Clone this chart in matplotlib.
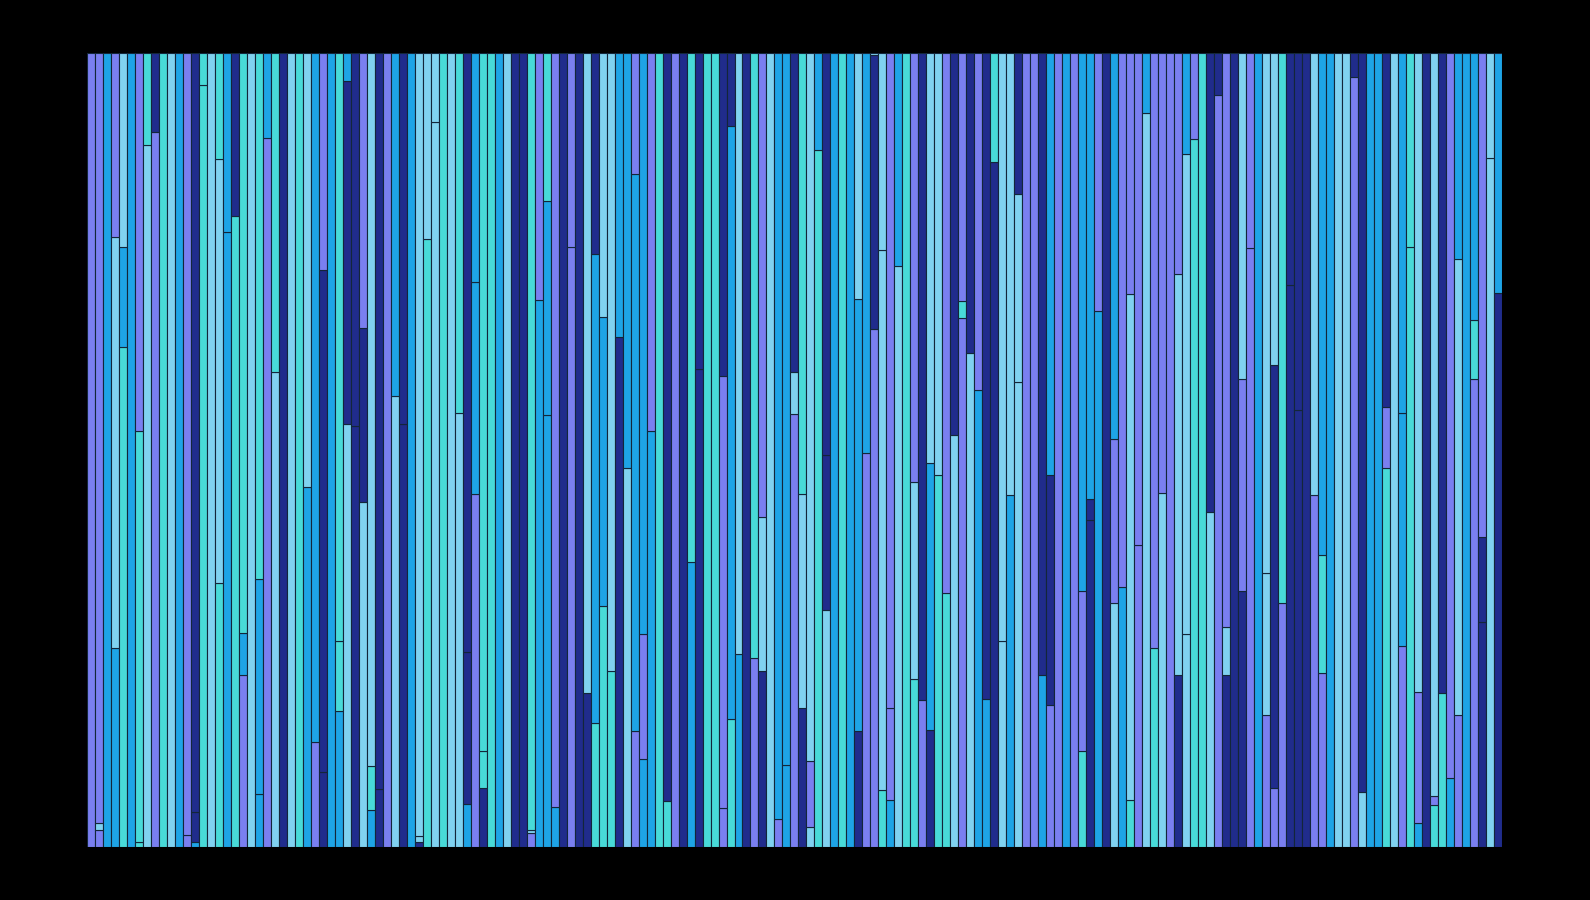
import matplotlib
matplotlib.use("Agg")
import matplotlib.pyplot as plt

# colour keys: S slate, L light sky, T turquoise, D deep sky, N navy
palette = {"S": "#7a7ff0", "L": "#80d2f0", "T": "#48dad8", "D": "#1ea4e6", "N": "#202c8c"}

# each bar: segment colours bottom -> top, and the cumulative cut points (share of 1)
bar_codes = [
    "S", "SLS", "D", "DLS", "TDL", "D", "TTS", "LT", "SN", "T",
    "L", "D", "SS", "DNN", "TT", "L", "TLT", "DD", "TN", "SDT",
    "L", "DDT", "SD", "LT", "N", "L", "T", "DL", "SD", "NNS",
    "D", "DTT", "LND", "NN", "LNS", "DTL", "NN", "S", "LD", "NN",
    "D", "NLL", "TL", "LL", "T", "L", "LT", "DNN", "SDD", "NTT",
    "T", "D", "L", "N", "N", "SLT", "DS", "DDT", "DS", "N",
    "SS", "N", "NL", "TDN", "TDL", "TL", "ND", "LD", "SDS", "DSD",
    "DS", "T", "TN", "S", "N", "DT", "NN", "T", "T", "SSN",
    "TDN", "DL", "N", "ST", "NLS", "L", "SD", "DD", "SLN", "NLT",
    "LSL", "TD", "LNN", "D", "T", "D", "NDL", "SD", "SNL", "TLL",
    "DSS", "LD", "T", "TLS", "SN", "NDL", "TL", "TS", "LN", "STS",
    "LN", "DS", "DN", "NT", "LL", "DL", "LLN", "S", "S", "DN",
    "SND", "S", "D", "S", "TSD", "NND", "DS", "N", "LSD", "DS",
    "TLS", "SS", "LD", "TS", "LS", "S", "NLS", "LLD", "TS", "T",
    "LN", "SN", "NLS", "N", "NSL", "SS", "D", "SLL", "SNL", "ST",
    "NN", "NN", "N", "SL", "STD", "D", "L", "L", "SN", "LN",
    "D", "D", "TSN", "L", "SDD", "TT", "DSL", "N", "TSL", "TN",
    "DS", "SLD", "D", "STD", "NNS", "LL", "ND",
]
bar_cuts = [
    [], [0.022, 0.030], [], [0.251, 0.768], [0.630, 0.755], [], [0.006, 0.524], [0.884], [0.900], [],
    [], [], [0.015], [0.007, 0.044], [0.959], [], [0.332, 0.866], [0.775], [0.795], [0.217, 0.270],
    [], [0.067, 0.338], [0.893], [0.598], [], [], [], [0.453], [0.133], [0.095, 0.727],
    [], [0.172, 0.259], [0.533, 0.965], [0.530], [0.435, 0.654], [0.047, 0.102], [0.073], [], [0.568], [0.533],
    [], [0.006, 0.014], [0.766], [0.913], [], [], [0.547], [0.054, 0.246], [0.445, 0.712], [0.075, 0.121],
    [], [], [], [], [], [0.018, 0.022], [0.689], [0.544, 0.813], [0.051], [],
    [0.755], [], [0.194], [0.156, 0.747], [0.304, 0.667], [0.222], [0.642], [0.477], [0.146, 0.848], [0.111, 0.269],
    [0.524], [], [0.058], [], [], [0.359], [0.602], [], [], [0.050, 0.593],
    [0.161, 0.908], [0.243], [], [0.238], [0.222, 0.416], [], [0.036], [0.104], [0.545, 0.598], [0.175, 0.445],
    [0.026, 0.108], [0.877], [0.299, 0.494], [], [], [], [0.146, 0.690], [0.496], [0.652, 0.997], [0.072, 0.752],
    [0.059, 0.175], [0.732], [], [0.212, 0.460], [0.185], [0.148, 0.484], [0.469], [0.320], [0.519], [0.666, 0.688],
    [0.622], [0.576], [0.187], [0.863], [0.259], [0.443], [0.586, 0.822], [], [], [0.217],
    [0.179, 0.469], [], [], [], [0.121, 0.323], [0.412, 0.438], [0.675], [], [0.307, 0.514], [0.328],
    [0.059, 0.696], [0.380], [0.924], [0.251], [0.446], [], [0.217, 0.721], [0.268, 0.872], [0.892], [],
    [0.422], [0.947], [0.217, 0.277], [], [0.322, 0.589], [0.754], [], [0.166, 0.345], [0.074, 0.607], [0.307],
    [0.708], [0.550], [], [0.443], [0.219, 0.368], [], [], [], [0.970], [0.069],
    [], [], [0.477, 0.554], [], [0.253, 0.547], [0.756], [0.030, 0.195], [], [0.053, 0.064], [0.194],
    [0.087], [0.166, 0.740], [], [0.589, 0.663], [0.284, 0.391], [0.868], [0.697],
]

fig = plt.figure(figsize=(15.9, 9), dpi=100, facecolor="black")
ax = fig.add_axes([0.0548, 0.0586, 0.8897, 0.8828])
ax.set_facecolor("black")

for i, (codes, cuts) in enumerate(zip(bar_codes, bar_cuts)):
    edges = [0.0] + cuts + [1.0]
    for j, c in enumerate(codes):
        ax.bar(i, edges[j + 1] - edges[j], bottom=edges[j], width=1.0,
               color=palette[c], edgecolor="#13263a", linewidth=0.8)

ax.set_xlim(-0.5, len(bar_codes) - 0.5)
ax.set_ylim(0, 1)
ax.axis("off")

fig.savefig("out.png", dpi=100, facecolor="black")
